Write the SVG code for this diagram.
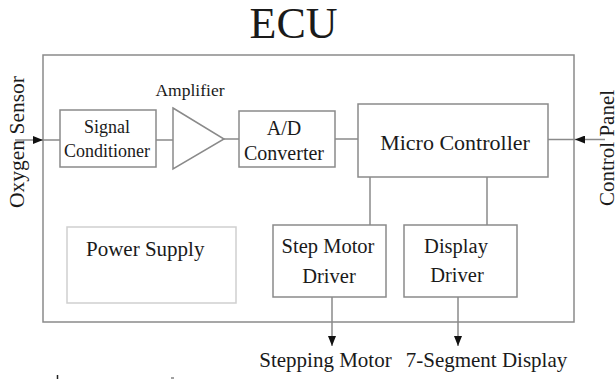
<svg xmlns="http://www.w3.org/2000/svg" width="615" height="379" viewBox="0 0 615 379">
<style>
text{font-family:"Liberation Serif","Times New Roman",serif;fill:#1a1a1a}
.box{fill:none;stroke:#8a8a8a;stroke-width:1.5}
.light{fill:none;stroke:#cfcfcf;stroke-width:1.5}
.ln{fill:none;stroke:#8a8a8a;stroke-width:1.5}
.m{text-anchor:middle}
</style>
<defs>
<marker id="ah" markerUnits="userSpaceOnUse" markerWidth="10" markerHeight="8" viewBox="0 0 10 8" refX="10" refY="4" orient="auto">
<path d="M0,0 L10,4 L0,8 z" fill="#111"/>
</marker>
</defs>
<g id="title"><text class="m" x="293.5" y="38" font-size="44">ECU</text></g>
<g id="ecu"><rect class="box" x="43" y="55" width="531" height="267"/></g>
<g id="signal-conditioner">
<rect class="box" x="60" y="110" width="96" height="57"/>
<text class="m" x="107" y="133" font-size="18">Signal</text>
<text class="m" x="107" y="157" font-size="18">Conditioner</text>
</g>
<g id="amplifier">
<polygon class="box" points="173,108 224,139 173,169"/>
<text class="m" x="190" y="96" font-size="17.5">Amplifier</text>
</g>
<g id="ad-converter">
<rect class="box" x="239" y="111" width="96" height="56"/>
<text class="m" x="284" y="135" font-size="20">A/D</text>
<text class="m" x="284" y="160" font-size="20">Converter</text>
</g>
<g id="micro-controller">
<rect class="box" x="358" y="104" width="190" height="73"/>
<text class="m" x="455" y="150" font-size="22">Micro Controller</text>
</g>
<g id="power-supply">
<rect class="light" x="67" y="227" width="169" height="76"/>
<text x="86" y="256" font-size="21">Power Supply</text>
</g>
<g id="step-motor-driver">
<rect class="box" x="273" y="225" width="113" height="72"/>
<text class="m" x="328" y="253" font-size="20.5">Step Motor</text>
<text class="m" x="329" y="283" font-size="20.5">Driver</text>
</g>
<g id="display-driver">
<rect class="box" x="404" y="225" width="113" height="72"/>
<text class="m" x="456" y="253" font-size="20.5">Display</text>
<text class="m" x="457" y="282" font-size="20.5">Driver</text>
</g>
<g id="oxygen-sensor"><text class="m" transform="translate(24,142) rotate(-90)" font-size="21.5">Oxygen Sensor</text></g>
<g id="control-panel"><text class="m" transform="translate(614,148) rotate(-90)" font-size="21">Control Panel</text></g>
<g id="stepping-motor"><text class="m" x="325.5" y="367" font-size="21">Stepping Motor</text></g>
<g id="seven-segment"><text class="m" x="486.5" y="367" font-size="21">7-Segment Display</text></g>
<g id="connectors">
<line class="ln" x1="15" y1="140" x2="43" y2="140" marker-end="url(#ah)"/>
<line class="ln" x1="43" y1="140" x2="60" y2="140"/>
<line class="ln" x1="156" y1="140" x2="173" y2="140"/>
<line class="ln" x1="224" y1="139" x2="239" y2="139"/>
<line class="ln" x1="335" y1="139" x2="358" y2="139"/>
<line class="ln" x1="605" y1="139.5" x2="575" y2="139.5" marker-end="url(#ah)"/>
<line class="ln" x1="548" y1="139.5" x2="575" y2="139.5"/>
<line class="ln" x1="370" y1="177" x2="370" y2="225"/>
<line class="ln" x1="487" y1="177" x2="487" y2="225"/>
<line class="ln" x1="332" y1="297" x2="332" y2="346" marker-end="url(#ah)"/>
<line class="ln" x1="458" y1="297" x2="458" y2="346" marker-end="url(#ah)"/>
</g>
<g id="marks">
<line x1="57.5" y1="375" x2="57.5" y2="379" stroke="#222" stroke-width="1.5"/>
<line x1="171" y1="378" x2="174" y2="378" stroke="#444" stroke-width="1"/>
</g>
</svg>
